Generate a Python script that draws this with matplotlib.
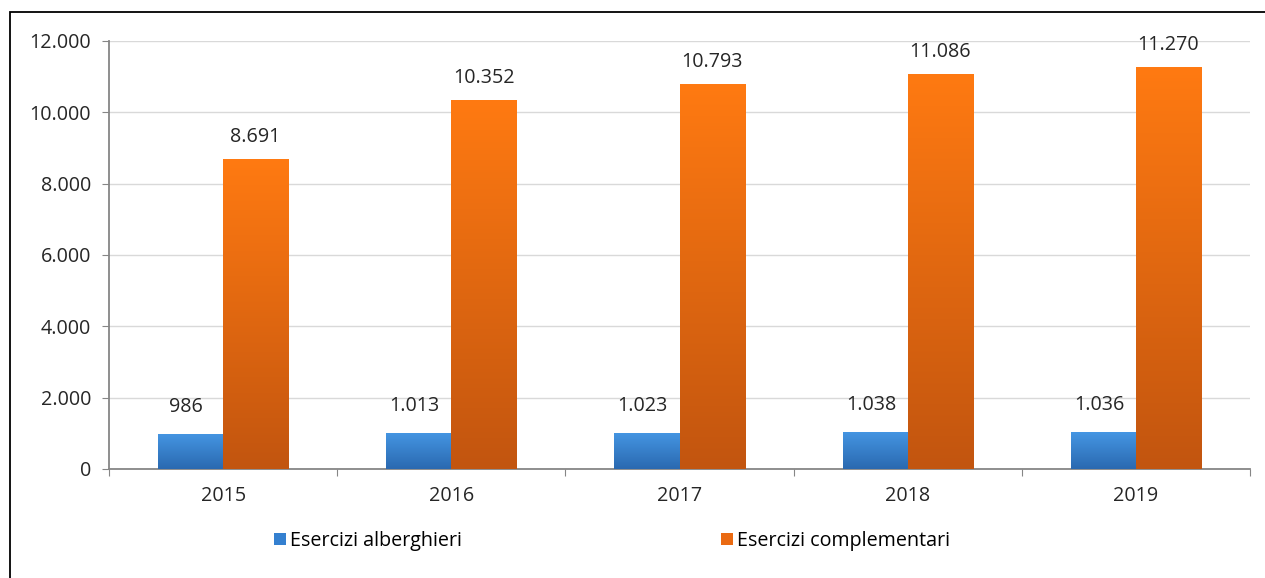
import matplotlib
matplotlib.use("Agg")
import matplotlib.pyplot as plt
import numpy as np
from matplotlib.colors import LinearSegmentedColormap
from matplotlib.patches import Rectangle

years = ["2015", "2016", "2017", "2018", "2019"]
alberghieri = [986, 1013, 1023, 1038, 1036]
complementari = [8691, 10352, 10793, 11086, 11270]
yticks = [0, 2000, 4000, 6000, 8000, 10000, 12000]

def fmt(v):
    return f"{v:,}".replace(",", ".")

plt.rcParams['font.family'] = ['Open Sans', 'DejaVu Sans']
FS = 14.2
TC = '#262626'

fig = plt.figure(figsize=(12.65, 5.78), dpi=100)
ax = fig.add_axes([109/1265, 1-469/578, (1250-109)/1265, (469-41)/578])

# outer frame (left/top visible)
fig.patches.append(Rectangle((10/1265, -0.1), 1.2, 1-12/578+0.1, transform=fig.transFigure,
                             fill=False, edgecolor='black', linewidth=1.3))

x = np.arange(len(years))
w = 0.285
b1 = ax.bar(x - w/2, alberghieri, w, color='none', edgecolor='none', zorder=3)
b2 = ax.bar(x + w/2, complementari, w, color='none', edgecolor='none', zorder=3)

cm_blue = LinearSegmentedColormap.from_list('b', ['#2a69b0', '#4596e3'])
cm_or = LinearSegmentedColormap.from_list('o', ['#c2550f', '#ff7a12'])
grad = np.linspace(0, 1, 256).reshape(-1, 1)
for bars, cm in ((b1, cm_blue), (b2, cm_or)):
    for p in bars:
        x0, y0 = p.get_x(), p.get_y()
        ww, hh = p.get_width(), p.get_height()
        im = ax.imshow(grad, cmap=cm, aspect='auto', origin='lower',
                       extent=(x0, x0 + ww, y0, y0 + hh), zorder=3)
        im.set_clip_path(p)

ax.set_xlim(-0.5, len(years) - 0.5)
ax.set_ylim(0, 12000)

for xi, v in zip(x, alberghieri):
    ax.annotate(fmt(v), (xi - w/2, v), xytext=(-3, 12), textcoords='offset points',
                ha='center', va='bottom', fontsize=FS, color=TC)
for xi, v in zip(x, complementari):
    ax.annotate(fmt(v), (xi + w/2, v), xytext=(0, 8.5), textcoords='offset points',
                ha='center', va='bottom', fontsize=FS, color=TC)

ax.set_yticks(yticks)
ax.set_yticklabels([fmt(t) for t in yticks], fontsize=FS, color=TC)
ax.yaxis.grid(True, color='#d9d9d9', linewidth=1)
ax.set_axisbelow(True)

ax.set_xticks(np.arange(len(years) + 1) - 0.5)
ax.set_xticklabels([])
ax.set_xticks(x, minor=True)
ax.set_xticklabels(years, minor=True, fontsize=FS, color=TC)
ax.tick_params(axis='x', which='minor', length=0, pad=12)
ax.tick_params(axis='x', which='major', length=5, color='#868686')
ax.tick_params(axis='y', length=5, color='#868686', pad=8)

for s in ['top', 'right']:
    ax.spines[s].set_visible(False)
for s in ['left', 'bottom']:
    ax.spines[s].set_color('#868686')
    ax.spines[s].set_linewidth(1.3)

h1 = Rectangle((0, 0), 1, 1, facecolor='#3480d0')
h2 = Rectangle((0, 0), 1, 1, facecolor='#ea6a12')
fig.legend([h1, h2], ["Esercizi alberghieri", "Esercizi complementari"],
           loc='center left', bbox_to_anchor=(264/1265, 1-541/578), ncol=2,
           frameon=False, fontsize=FS, handlelength=0.62, handleheight=0.62,
           handletextpad=0.18, columnspacing=13.15, borderpad=0)

fig.savefig("out.png", dpi=100, facecolor='white')
